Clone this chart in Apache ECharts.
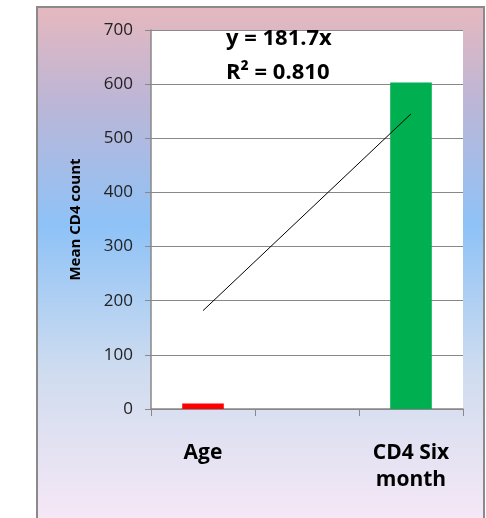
<!DOCTYPE html>
<html>
<head>
<meta charset="utf-8">
<script src="https://cdn.jsdelivr.net/npm/echarts@6/dist/echarts.min.js"></script>
<style>
  html, body { margin: 0; padding: 0; background: #fff; }
  #main { width: 486px; height: 518px; }
</style>
</head>
<body>
<div id="main"></div>
<script>
var categories = ['Age', '', 'CD4 Six\nmonth'];
var barValues = [10, null, 603];
var barColors = ['#ff0000', '#ffffff', '#00b050'];
var trendValues = [181.7, 363.4, 545.1];
var yTicks = [0, 100, 200, 300, 400, 500, 600, 700];

var myChart = echarts.init(document.getElementById('main'));

var font = '"Open Sans", "Noto Sans", sans-serif';

var option = {
    animation: false,
    backgroundColor: 'transparent',
    graphic: [{
        type: 'rect',
        z: -10,
        silent: true,
        shape: { x: 37, y: 7, width: 447, height: 520 },
        style: {
            fill: new echarts.graphic.LinearGradient(0, 0, 0, 1, [
                { offset: 0, color: '#e6b8be' },
                { offset: 0.18, color: '#bdb6d6' },
                { offset: 0.42, color: '#8ec2f7' },
                { offset: 0.7, color: '#cfdcef' },
                { offset: 1, color: '#f8e8f6' }
            ]),
            stroke: '#8a8a8a',
            lineWidth: 2
        }
    }, {
        type: 'text',
        left: 226,
        top: 28,
        z: 10,
        style: {
            text: 'y = 181.7x',
            font: 'bold 22px ' + font,
            fill: '#000'
        }
    }, {
        type: 'text',
        left: 226,
        top: 62,
        z: 10,
        style: {
            text: 'R² = 0.810',
            font: 'bold 22px ' + font,
            fill: '#000'
        }
    }],
    grid: {
        left: 151,
        right: 23,
        top: 30,
        bottom: 109,
        show: true,
        backgroundColor: '#ffffff',
        borderWidth: 0
    },
    xAxis: {
        type: 'category',
        data: categories,
        axisLine: { lineStyle: { color: '#888', width: 1.5 } },
        axisTick: { show: true, length: 7, lineStyle: { color: '#888' } },
        axisLabel: {
            margin: 31,
            fontFamily: font,
            fontSize: 21,
            fontWeight: 'bold',
            color: '#000',
            lineHeight: 27
        }
    },
    yAxis: {
        type: 'value',
        min: yTicks[0],
        max: yTicks[yTicks.length - 1],
        interval: 100,
        name: 'Mean CD4 count',
        nameLocation: 'middle',
        nameGap: 68,
        nameTextStyle: {
            fontFamily: font,
            fontSize: 15,
            fontWeight: 'bold',
            color: '#000'
        },
        axisLine: { show: true, lineStyle: { color: '#888', width: 1.5 } },
        axisTick: { show: true, length: 6, lineStyle: { color: '#888' } },
        splitLine: { lineStyle: { color: '#888', width: 1 } },
        axisLabel: {
            margin: 18,
            fontFamily: font,
            fontSize: 17,
            color: '#222'
        }
    },
    series: [{
        type: 'bar',
        barWidth: '40%',
        data: barValues.map(function(v, i) {
            return { value: v, itemStyle: { color: barColors[i] } };
        })
    }, {
        type: 'line',
        data: trendValues,
        symbol: 'none',
        z: 5,
        lineStyle: { color: '#000', width: 1 }
    }]
};

myChart.setOption(option);
</script>
</body>
</html>
